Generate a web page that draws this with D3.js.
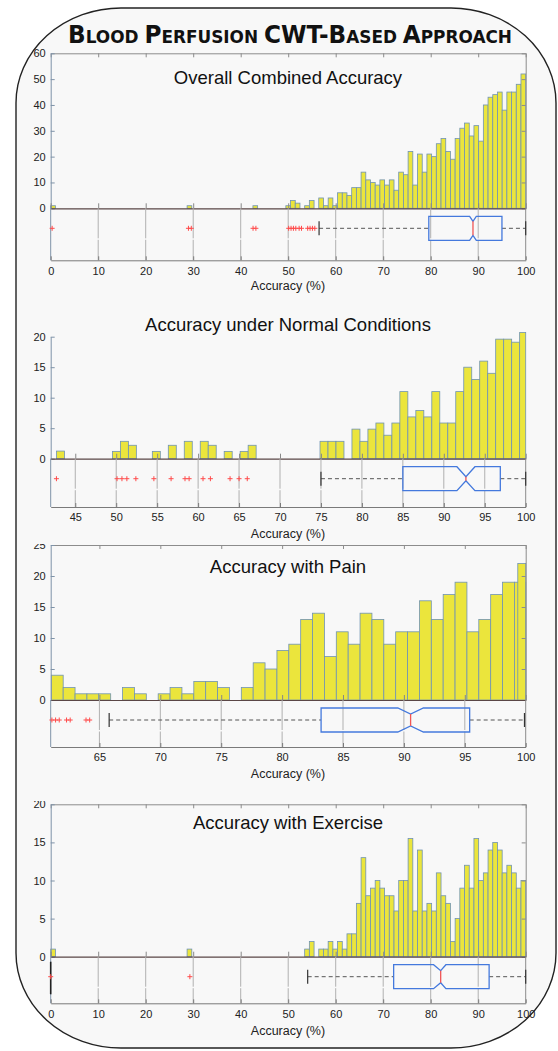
<!DOCTYPE html>
<html>
<head>
<meta charset="utf-8">
<script src="https://cdn.jsdelivr.net/npm/d3@7/dist/d3.min.js"></script>
<style>
  html, body { margin: 0; padding: 0; background: #fff; }
  svg { display: block; font-family: "Liberation Sans", Arial, sans-serif; }
</style>
</head>
<body>
<svg id="chart"></svg>
<script>
const width = 558;
const height = 1051;

// ---------- data ----------
// overall combined accuracy: 101 bins of width 0.99 starting at 0
const overallBins = [0.005, 0.99];
const overallCounts = [
  1, 0, 0, 0, 0, 0, 0, 0, 0, 0, 0, 0, 0, 0, 0, 0, 0, 0, 0, 0,
  0, 0, 0, 0, 0, 0, 0, 0, 0, 1, 0, 0, 0, 0, 0, 0, 0, 0, 0, 0,
  0, 0, 0, 1, 0, 0, 0, 0, 0, 0, 1, 3, 2, 0, 1, 3, 0, 4, 1, 4,
  1, 6, 6, 5, 8, 8, 14, 11, 10, 9, 11, 9, 11, 7, 14, 13, 22, 9, 21, 14,
  21, 20, 25, 27, 22, 19, 27, 31, 33, 28, 32, 26, 40, 43, 44, 45, 38, 45, 45, 48,
  52
];
const overallTicks = [0, 10, 20, 30, 40, 50, 60, 70, 80, 90, 100];
const overallYTicks = [0, 10, 20, 30, 40, 50, 60];
// [whisker low, q1, notch low, median, notch high, q3, whisker high]
const overallBox = [56.5, 79.6, 88.2, 88.9, 89.6, 95.0, 100];
const overallOutliers = [0.3, 29.0, 29.6, 42.6, 43.2, 50.1, 50.6, 51.1, 51.6, 52.3, 52.8, 54.1, 54.6, 55.1, 55.6];

// normal conditions: 59 bins of width 0.975 starting at 42.71
const normalBins = [42.71, 0.975];
const normalCounts = [
  1.25, 0, 0, 0, 0, 0, 0, 1.2, 2.85, 2.2, 0, 0, 1.2, 0, 2.2, 0, 2.85, 0, 2.85, 2.2,
  0, 1.2, 0, 1.2, 2.2, 0, 0, 0, 0, 0, 0, 0, 0, 2.85, 2.85, 2.85, 0, 4.85, 2.85, 4.85,
  5.85, 3.85, 5.85, 11, 6.85, 7.9, 6.85, 11, 5.85, 5.85, 11, 15, 13, 16, 14, 19.6, 19.6, 19.1, 20.7
];
const normalTicks = [45, 50, 55, 60, 65, 70, 75, 80, 85, 90, 95, 100];
const normalYTicks = [0, 5, 10, 15, 20];
const normalBox = [75.0, 85.0, 91.6, 92.7, 93.8, 96.9, 100];
const normalOutliers = [42.7, 50.1, 50.7, 51.3, 52.4, 54.6, 56.7, 58.4, 58.9, 60.6, 61.5, 63.9, 65.0, 66.0];

// with pain: 40 bins of width 0.975 starting at 61.05, plus a narrow last bar
const painBins = [61.05, 0.975];
const painCounts = [
  4, 2, 1, 1, 1, 0, 2, 1, 0, 1, 2, 1, 3, 3, 2, 0, 2, 6, 5, 8,
  9, 13, 14, 7, 11, 9, 14, 13, 9, 11, 11, 16, 13, 17, 19, 11, 13, 17, 19, 19
];
const painLastBar = [99.35, 100, 22];
const painTicks = [65, 70, 75, 80, 85, 90, 95, 100];
const painYTicks = [0, 5, 10, 15, 20, 25];
const painBox = [65.8, 83.2, 89.5, 90.55, 91.6, 95.4, 99.9];
const painOutliers = [61.1, 61.4, 61.7, 62.3, 62.6, 63.9, 64.2];

// with exercise: same binning as overall
const exerciseBins = [0.005, 0.99];
const exerciseCounts = [
  1, 0, 0, 0, 0, 0, 0, 0, 0, 0, 0, 0, 0, 0, 0, 0, 0, 0, 0, 0,
  0, 0, 0, 0, 0, 0, 0, 0, 0, 1, 0, 0, 0, 0, 0, 0, 0, 0, 0, 0,
  0, 0, 0, 0, 0, 0, 0, 0, 0, 0, 0, 0, 0, 0, 1, 2, 0, 1, 1, 2,
  1, 2, 1, 3, 3, 7, 13, 8, 9, 10, 9, 8, 8, 6, 10, 10, 15.5, 6, 14, 6,
  7, 6, 11, 8, 7, 2, 5, 9, 12, 9, 15.5, 10, 11, 14, 15, 14, 11, 12, 11, 9,
  10
];
const exerciseTicks = [0, 10, 20, 30, 40, 50, 60, 70, 80, 90, 100];
const exerciseYTicks = [0, 5, 10, 15, 20];
const exerciseBox = [54.1, 72.2, 80.6, 82.1, 83.2, 92.3, 100];
const exerciseOutliers = [0, 29.3];

// ---------- layout ----------
const panels = [
  { title: 'Overall Combined Accuracy', domain: [0, 100], yMax: 60,
    bins: overallBins, counts: overallCounts, ticks: overallTicks, yTicks: overallYTicks,
    box: overallBox, outliers: overallOutliers,
    top: 53.3, base: 208.3, boxBottom: 260.3, titleY: 84, labelY: 290,
    frame: true, notch: 7, clipTop: 0 },
  { title: 'Accuracy under Normal Conditions', domain: [42, 100], yMax: 20,
    bins: normalBins, counts: normalCounts, ticks: normalTicks, yTicks: normalYTicks,
    box: normalBox, outliers: normalOutliers,
    top: 336.7, base: 458.7, boxBottom: 507, titleY: 331, labelY: 538,
    frame: false, notch: 2, clipTop: 0 },
  { title: 'Accuracy with Pain', domain: [61, 100], yMax: 25,
    bins: painBins, counts: painCounts, extra: painLastBar, ticks: painTicks, yTicks: painYTicks,
    box: painBox, outliers: painOutliers,
    top: 545, base: 700, boxBottom: 747, titleY: 573, labelY: 778,
    frame: true, notch: 6, clipTop: 544 },
  { title: 'Accuracy with Exercise', domain: [0, 100], yMax: 20,
    bins: exerciseBins, counts: exerciseCounts, ticks: exerciseTicks, yTicks: exerciseYTicks,
    box: exerciseBox, outliers: exerciseOutliers,
    top: 804.3, base: 956.7, boxBottom: 1003.3, titleY: 829, labelY: 1035,
    frame: true, notch: 6, clipTop: 801, darkLeft: true }
];

const left = 50.7;
const right = 525.7;

const svg = d3.select('#chart').attr('width', width).attr('height', height);

// rounded outer frame
svg.append('rect')
  .attr('x', 16).attr('y', 8)
  .attr('width', 540).attr('height', 1040)
  .attr('rx', 105).attr('ry', 95)
  .attr('fill', '#f8f8f8')
  .attr('stroke', '#222')
  .attr('stroke-width', 1.4);

// main title in small caps
const mainTitle = [
  ['B', 24], ['LOOD ', 17.5], ['P', 24], ['ERFUSION ', 17.5], ['CWT-B', 24],
  ['ASED ', 17.5], ['A', 24], ['PPROACH', 17.5]
];
const tt = svg.append('text')
  .attr('x', 68).attr('y', 43)
  .attr('textLength', 444)
  .attr('lengthAdjust', 'spacingAndGlyphs')
  .style('font-family', '"DejaVu Sans", sans-serif')
  .style('font-weight', 'bold')
  .attr('fill', '#111');
mainTitle.forEach((d) => {
  tt.append('tspan').attr('font-size', d[1]).text(d[0]);
});

const defs = svg.append('defs');

panels.forEach((p, i) => {
  const x = d3.scaleLinear().domain(p.domain).range([left, right]);
  const y = d3.scaleLinear().domain([0, p.yMax]).range([p.base, p.top]);
  const g = svg.append('g');

  // title
  g.append('text')
    .attr('x', 288).attr('y', p.titleY)
    .attr('text-anchor', 'middle')
    .attr('font-size', 18.5)
    .attr('fill', '#111')
    .text(p.title);

  // histogram bars
  const bars = p.counts.map((c, k) => {
    const lo = p.bins[0] + k * p.bins[1];
    return { lo: lo, hi: lo + p.bins[1], n: c };
  }).filter((d) => d.n > 0);
  if (p.extra) bars.push({ lo: p.extra[0], hi: p.extra[1], n: p.extra[2] });

  g.append('g')
    .selectAll('rect')
    .data(bars)
    .enter()
    .append('rect')
    .attr('x', (d) => x(Math.max(d.lo, p.domain[0])))
    .attr('width', (d) => x(Math.min(d.hi, p.domain[1])) - x(Math.max(d.lo, p.domain[0])))
    .attr('y', (d) => y(d.n))
    .attr('height', (d) => p.base - y(d.n))
    .attr('fill', '#ebe53c')
    .attr('stroke', '#6f93b3')
    .attr('stroke-width', 0.8);

  // frame on top and right
  if (p.frame) {
    const topAxis = d3.axisTop(x).tickValues(p.ticks).tickSizeInner(-4).tickSizeOuter(0).tickFormat('');
    g.append('g').attr('transform', 'translate(0,' + p.top + ')').call(topAxis)
      .call((a) => a.selectAll('path, line').attr('stroke', '#8c8c8c'));
    const rightAxis = d3.axisRight(y).tickValues(p.yTicks).tickSizeInner(-4).tickSizeOuter(0).tickFormat('');
    g.append('g').attr('transform', 'translate(' + right + ',0)').call(rightAxis)
      .call((a) => a.selectAll('path, line').attr('stroke', '#8c8c8c'));
  }

  // y axis (labels of the lower panels are cut at the top like the source)
  defs.append('clipPath').attr('id', 'clip' + i)
    .append('rect').attr('x', -60).attr('y', p.clipTop).attr('width', width).attr('height', height);
  const yAxis = d3.axisLeft(y).tickValues(p.yTicks).tickSizeInner(-4).tickSizeOuter(0).tickPadding(5);
  g.append('g')
    .attr('transform', 'translate(' + left + ',0)')
    .attr('clip-path', 'url(#clip' + i + ')')
    .call(yAxis)
    .call((a) => a.selectAll('path, line').attr('stroke', '#7f93a8'))
    .call((a) => a.selectAll('text').attr('font-size', 11).attr('fill', '#222')
      .style('font-family', '"Liberation Sans", Arial, sans-serif'));

  // histogram baseline with inward ticks
  const baseAxis = d3.axisBottom(x).tickValues(p.ticks).tickSizeInner(-5).tickSizeOuter(0).tickFormat('');
  g.append('g').attr('transform', 'translate(0,' + p.base + ')').call(baseAxis)
    .call((a) => a.selectAll('line').attr('stroke', '#888'))
    .call((a) => a.select('.domain').attr('stroke', '#5a4646').attr('stroke-width', 1.2));

  // box plot area: grid, frame, axis
  g.append('g')
    .selectAll('line')
    .data(p.ticks.filter((t) => t > p.domain[0] && t < p.domain[1]))
    .enter()
    .append('line')
    .attr('x1', (d) => x(d)).attr('x2', (d) => x(d))
    .attr('y1', p.base).attr('y2', p.boxBottom)
    .attr('stroke', '#b0b0b0')
    .attr('stroke-dasharray', '30,1.5');

  g.append('line')
    .attr('x1', left).attr('x2', left).attr('y1', p.base).attr('y2', p.boxBottom)
    .attr('stroke', '#7f93a8');
  g.append('line')
    .attr('x1', right).attr('x2', right).attr('y1', p.base).attr('y2', p.boxBottom)
    .attr('stroke', '#8c8c8c');
  if (p.darkLeft) {
    g.append('line')
      .attr('x1', left).attr('x2', left).attr('y1', p.base + 5).attr('y2', p.boxBottom - 9)
      .attr('stroke', '#222').attr('stroke-width', 1.6);
  }

  const xAxis = d3.axisBottom(x).tickValues(p.ticks).tickSizeInner(-4).tickSizeOuter(0).tickPadding(6.5);
  g.append('g').attr('transform', 'translate(0,' + p.boxBottom + ')').call(xAxis)
    .call((a) => a.selectAll('path, line').attr('stroke', '#7a7a7a'))
    .call((a) => a.selectAll('text').attr('font-size', 11).attr('fill', '#222')
      .style('font-family', '"Liberation Sans", Arial, sans-serif'));

  g.append('text')
    .attr('x', 288).attr('y', p.labelY)
    .attr('text-anchor', 'middle')
    .attr('font-size', 12.5)
    .attr('fill', '#222')
    .text('Accuracy (%)');

  // notched box
  const b = p.box;
  const cy = p.base + 20;
  const h = 12;
  const hn = p.notch;

  g.append('line')
    .attr('x1', x(b[0])).attr('x2', x(b[1])).attr('y1', cy).attr('y2', cy)
    .attr('stroke', '#555').attr('stroke-dasharray', '4,3');
  g.append('line')
    .attr('x1', x(b[5])).attr('x2', x(b[6])).attr('y1', cy).attr('y2', cy)
    .attr('stroke', '#555').attr('stroke-dasharray', '4,3');
  [b[0], b[6]].forEach((v) => {
    g.append('line')
      .attr('x1', x(v)).attr('x2', x(v)).attr('y1', cy - 7).attr('y2', cy + 7)
      .attr('stroke', '#333').attr('stroke-width', 1.2);
  });

  const pts = [
    [x(b[1]), cy - h], [x(b[2]), cy - h], [x(b[3]), cy - hn], [x(b[4]), cy - h], [x(b[5]), cy - h],
    [x(b[5]), cy + h], [x(b[4]), cy + h], [x(b[3]), cy + hn], [x(b[2]), cy + h], [x(b[1]), cy + h]
  ];
  g.append('path')
    .attr('d', d3.line()(pts) + 'Z')
    .attr('fill', 'none')
    .attr('stroke', '#4479dd')
    .attr('stroke-width', 1.3);
  g.append('line')
    .attr('x1', x(b[3])).attr('x2', x(b[3])).attr('y1', cy - hn).attr('y2', cy + hn)
    .attr('stroke', '#f05555').attr('stroke-width', 1.3);

  // outliers as red plus signs
  const out = g.append('g')
    .selectAll('g')
    .data(p.outliers)
    .enter()
    .append('g')
    .attr('transform', (d) => 'translate(' + x(d) + ',' + cy + ')');
  out.append('line').attr('x1', -2.5).attr('x2', 2.5).attr('stroke', '#ff4a4a');
  out.append('line').attr('y1', -2.5).attr('y2', 2.5).attr('stroke', '#ff4a4a');
});
</script>
</body>
</html>
